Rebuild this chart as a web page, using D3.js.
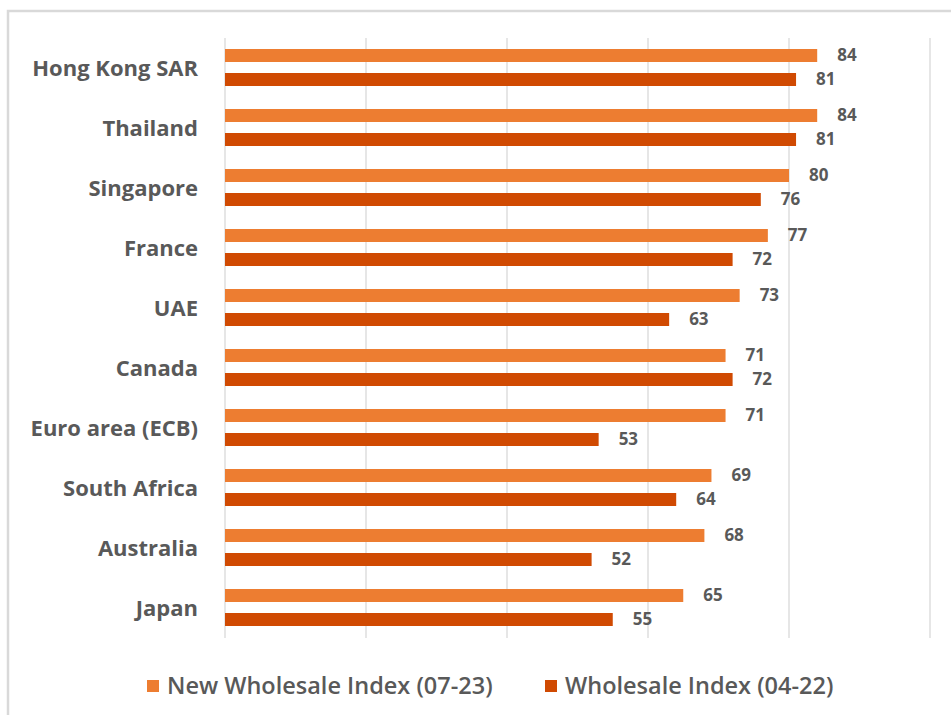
<!DOCTYPE html>
<html>
<head>
<meta charset="utf-8">
<script src="https://cdn.jsdelivr.net/npm/d3@7"></script>
<style>
  body { margin: 0; background: #fff; }
  svg { display: block; }
  text { font-family: "Open Sans", "Noto Sans", sans-serif; }
</style>
</head>
<body>
<svg id="chart" width="951" height="715"></svg>
<script>
const countries = ['Hong Kong SAR', 'Thailand', 'Singapore', 'France', 'UAE', 'Canada', 'Euro area (ECB)', 'South Africa', 'Australia', 'Japan']
const newIndex = [84, 84, 80, 77, 73, 71, 71, 69, 68, 65]
const oldIndex = [81, 81, 76, 72, 63, 72, 53, 64, 52, 55]
const seriesNames = ['New Wholesale Index (07-23)', 'Wholesale Index (04-22)']
const colors = ['#ED7D31', '#D04A02']
const xTicks = [0, 20, 40, 60, 80, 100]

const svg = d3.select('#chart')

// outer frame
svg.append('rect')
  .attr('x', 8).attr('y', 11).attr('width', 960).attr('height', 720)
  .attr('fill', 'none').attr('stroke', '#d9d9d9').attr('stroke-width', 2.5)

const x = d3.scaleLinear().domain([0, 100]).range([225, 930])
const y = d3.scaleBand().domain(countries).range([38, 638])
// two bars per row: 13px tall, 11px apart
const inner = d3.scaleBand().domain([0, 1]).range([11, 48]).paddingInner(11 / 24)

svg.append('g')
  .selectAll('line').data(xTicks).join('line')
  .attr('x1', d => x(d)).attr('x2', d => x(d))
  .attr('y1', 38).attr('y2', 638)
  .attr('stroke', '#d9d9d9').attr('stroke-width', 1.3)

const rows = countries.map((c, i) => ({ c, vals: [newIndex[i], oldIndex[i]] }))

const g = svg.append('g').selectAll('g').data(rows).join('g')
  .attr('transform', d => `translate(0,${y(d.c)})`)

g.selectAll('rect').data(d => d.vals).join('rect')
  .attr('x', x(0))
  .attr('y', (v, i) => inner(i))
  .attr('width', v => x(v) - x(0))
  .attr('height', inner.bandwidth())
  .attr('fill', (v, i) => colors[i])

g.selectAll('text.val').data(d => d.vals).join('text')
  .attr('class', 'val')
  .attr('x', v => x(v) + 20)
  .attr('y', (v, i) => inner(i) + inner.bandwidth() / 2)
  .attr('dy', '0.35em')
  .attr('font-size', 17).attr('font-weight', 700).attr('fill', '#595959')
  .text(v => v)

g.append('text')
  .attr('x', 198)
  .attr('y', y.bandwidth() / 2)
  .attr('dy', '0.35em')
  .attr('text-anchor', 'end')
  .attr('font-size', 22).attr('font-weight', 700).attr('fill', '#595959')
  .text(d => d.c)

// legend
const legendX = [147, 545]
const lg = svg.append('g').selectAll('g').data(seriesNames).join('g')
  .attr('transform', (d, i) => `translate(${legendX[i]},686)`)
lg.append('rect').attr('x', 0).attr('y', -6).attr('width', 12).attr('height', 12)
  .attr('fill', (d, i) => colors[i])
lg.append('text').attr('x', 20).attr('dy', '0.35em')
  .attr('font-size', 23.5).attr('font-weight', 600).attr('fill', '#595959')
  .text(d => d)
</script>
</body>
</html>
